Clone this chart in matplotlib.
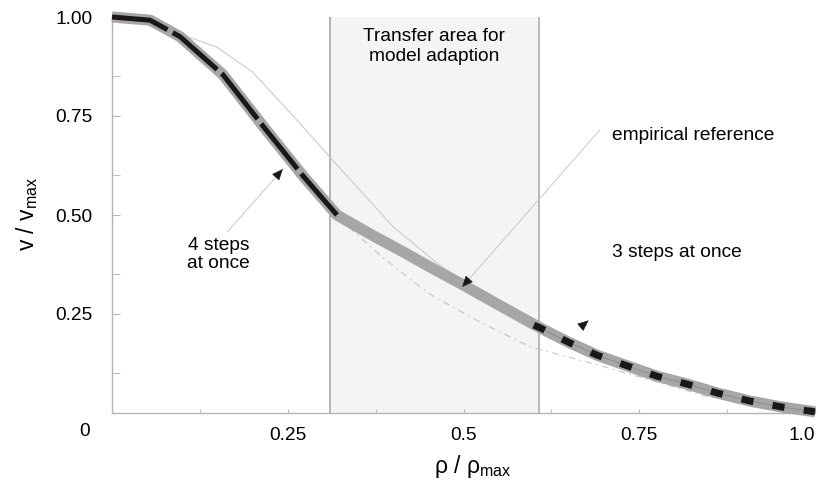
import matplotlib
matplotlib.use("Agg")
import matplotlib.pyplot as plt

plt.rcParams['font.family'] = ['Liberation Sans', 'DejaVu Sans']
plt.rcParams['mathtext.fontset'] = 'custom'
plt.rcParams['mathtext.rm'] = 'Liberation Sans'
plt.rcParams['mathtext.it'] = 'Liberation Sans:italic'

# thick grey band (model curve)
rho_band = [0.0, 0.054, 0.085, 0.097, 0.158, 0.216, 0.273, 0.32, 0.367, 0.414, 0.452, 0.5,
            0.548, 0.609, 0.649, 0.69, 0.733, 0.775, 0.818, 0.862, 0.908, 0.953, 1.0]
v_band = [1.0, 0.992, 0.962, 0.95, 0.854, 0.722, 0.596, 0.5, 0.452, 0.407, 0.369, 0.323,
          0.275, 0.215, 0.179, 0.146, 0.119, 0.093, 0.073, 0.05, 0.03, 0.015, 0.003]

# "4 steps at once"
rho_4step = [0.0, 0.054, 0.085, 0.097, 0.158, 0.216, 0.273, 0.32]
v_4step = [1.0, 0.992, 0.962, 0.95, 0.854, 0.722, 0.596, 0.5]

# "3 steps at once"
rho_3step = [0.6, 0.609, 0.649, 0.69, 0.733, 0.775, 0.818, 0.862, 0.908, 0.953, 1.0]
v_3step = [0.222, 0.215, 0.179, 0.146, 0.119, 0.093, 0.073, 0.05, 0.03, 0.015, 0.003]

# empirical reference (thin line)
rho_emp = [0.0, 0.05, 0.092, 0.149, 0.2, 0.267, 0.31, 0.353, 0.4, 0.462, 0.533, 0.609]
v_emp = [1.0, 0.995, 0.96, 0.924, 0.861, 0.732, 0.646, 0.562, 0.47, 0.379, 0.29, 0.222]

# dash-dot lower curve
rho_dd = [0.32, 0.329, 0.384, 0.44, 0.459, 0.523, 0.595, 0.69, 0.784, 0.846, 0.9]
v_dd = [0.5, 0.482, 0.394, 0.316, 0.293, 0.23, 0.167, 0.122, 0.074, 0.042, 0.028]

transfer_lo, transfer_hi = 0.31, 0.607

fig = plt.figure(figsize=(8.18, 4.95), dpi=100)
ax = fig.add_axes([112 / 818, 82 / 495, 703 / 818, 396 / 495])
ax.set_xlim(0, 1.0)
ax.set_ylim(0, 1.0)

ax.axvspan(transfer_lo, transfer_hi, color='#f4f4f4', lw=0, zorder=0)
ax.axvline(transfer_lo, color='#a0a0a0', lw=1.1, zorder=1)
ax.axvline(transfer_hi, color='#b8b8b8', lw=1.4, zorder=1)

ax.plot(rho_emp, v_emp, color='#cccccc', lw=0.8, zorder=2)
ax.plot(rho_dd, v_dd, color='#c4c4c4', lw=0.8, linestyle=(0, (6, 4, 1.5, 4)), zorder=2)
ax.plot(rho_band, v_band, color='#a6a6a6', lw=8, solid_capstyle='butt',
        solid_joinstyle='round', zorder=3, clip_on=False)
ax.plot(rho_3step[1:], v_3step[1:], color='#8a8a8a', lw=0.6, zorder=4, clip_on=False)
ax.plot(rho_4step, v_4step, color='#1a1716', lw=3.6, linestyle=(0, (11.6, 1.2)),
        dash_capstyle='butt', zorder=5, clip_on=False)
ax.plot(rho_3step, v_3step, color='#1a1716', lw=5, linestyle=(0, (1.75, 2.8)),
        dash_capstyle='butt', zorder=5, clip_on=False)

# text annotations
fs = 13.8
ax.text((transfer_lo + transfer_hi) / 2, 0.972, 'Transfer area for\nmodel adaption',
        ha='center', va='top', fontsize=fs, linespacing=1.2)
ax.text(0.152, 0.4, '4 steps\nat once', ha='center', va='center', fontsize=fs, linespacing=1.1)
ax.text(0.711, 0.7, 'empirical reference', ha='left', va='center', fontsize=fs)
ax.text(0.711, 0.405, '3 steps at once', ha='left', va='center', fontsize=fs)

# arrows: light thin shaft, small black head
def arrow(tail, tip):
    ax.plot([tail[0], tip[0]], [tail[1], tip[1]], color='#c8c8c8', lw=0.7, zorder=6)
    dx = (tip[0] - tail[0]) * 0.02
    dy = (tip[1] - tail[1]) * 0.02
    ax.annotate('', xy=tip, xytext=(tip[0] - dx, tip[1] - dy),
                arrowprops=dict(arrowstyle='-|>,head_length=0.7,head_width=0.3',
                                color='#1a1716', lw=0.5, shrinkA=0, shrinkB=0), zorder=7)

arrow((0.164, 0.457), (0.243, 0.616))
arrow((0.694, 0.715), (0.498, 0.318))
ax.annotate('', xy=(0.678, 0.234), xytext=(0.674, 0.228),
            arrowprops=dict(arrowstyle='-|>,head_length=0.7,head_width=0.3',
                            color='#1a1716', lw=0.5, shrinkA=0, shrinkB=0), zorder=7)

# axes styling
for s in ['top', 'right']:
    ax.spines[s].set_visible(False)
for s in ['left', 'bottom']:
    ax.spines[s].set_color('#b4b4b4')
    ax.spines[s].set_linewidth(1.0)

ax.set_yticks([0.25, 0.5, 0.75, 1.0], labels=['0.25', '0.50', '0.75', '1.00'])
ax.set_yticks([0.1, 0.35, 0.6, 0.85], minor=True)
ax.set_xticks([0.25, 0.5, 0.75, 1.0], labels=['0.25', '0.5', '0.75', '1.0'])
ax.set_xticks([0.125, 0.375, 0.625, 0.875], minor=True)
ax.tick_params(axis='y', which='both', direction='in', length=6, color='#b4b4b4',
               labelsize=fs, pad=14)
ax.tick_params(axis='x', which='both', direction='in', length=3, color='#b4b4b4',
               labelsize=fs, pad=10)
ax.get_xticklabels()[-1].set_horizontalalignment('right')

fig.text(85 / 818, 1 - 432 / 495, '0', ha='center', va='center', fontsize=fs)
fig.text(473 / 818, 1 - 466 / 495, r'ρ / ρ$_\mathrm{max}$', ha='center', va='center', fontsize=16.5)
fig.text(27 / 818, 1 - 214 / 495, r'v / v$_\mathrm{max}$', ha='center', va='center',
         fontsize=16.5, rotation=90)

fig.savefig('out.png', dpi=100)
